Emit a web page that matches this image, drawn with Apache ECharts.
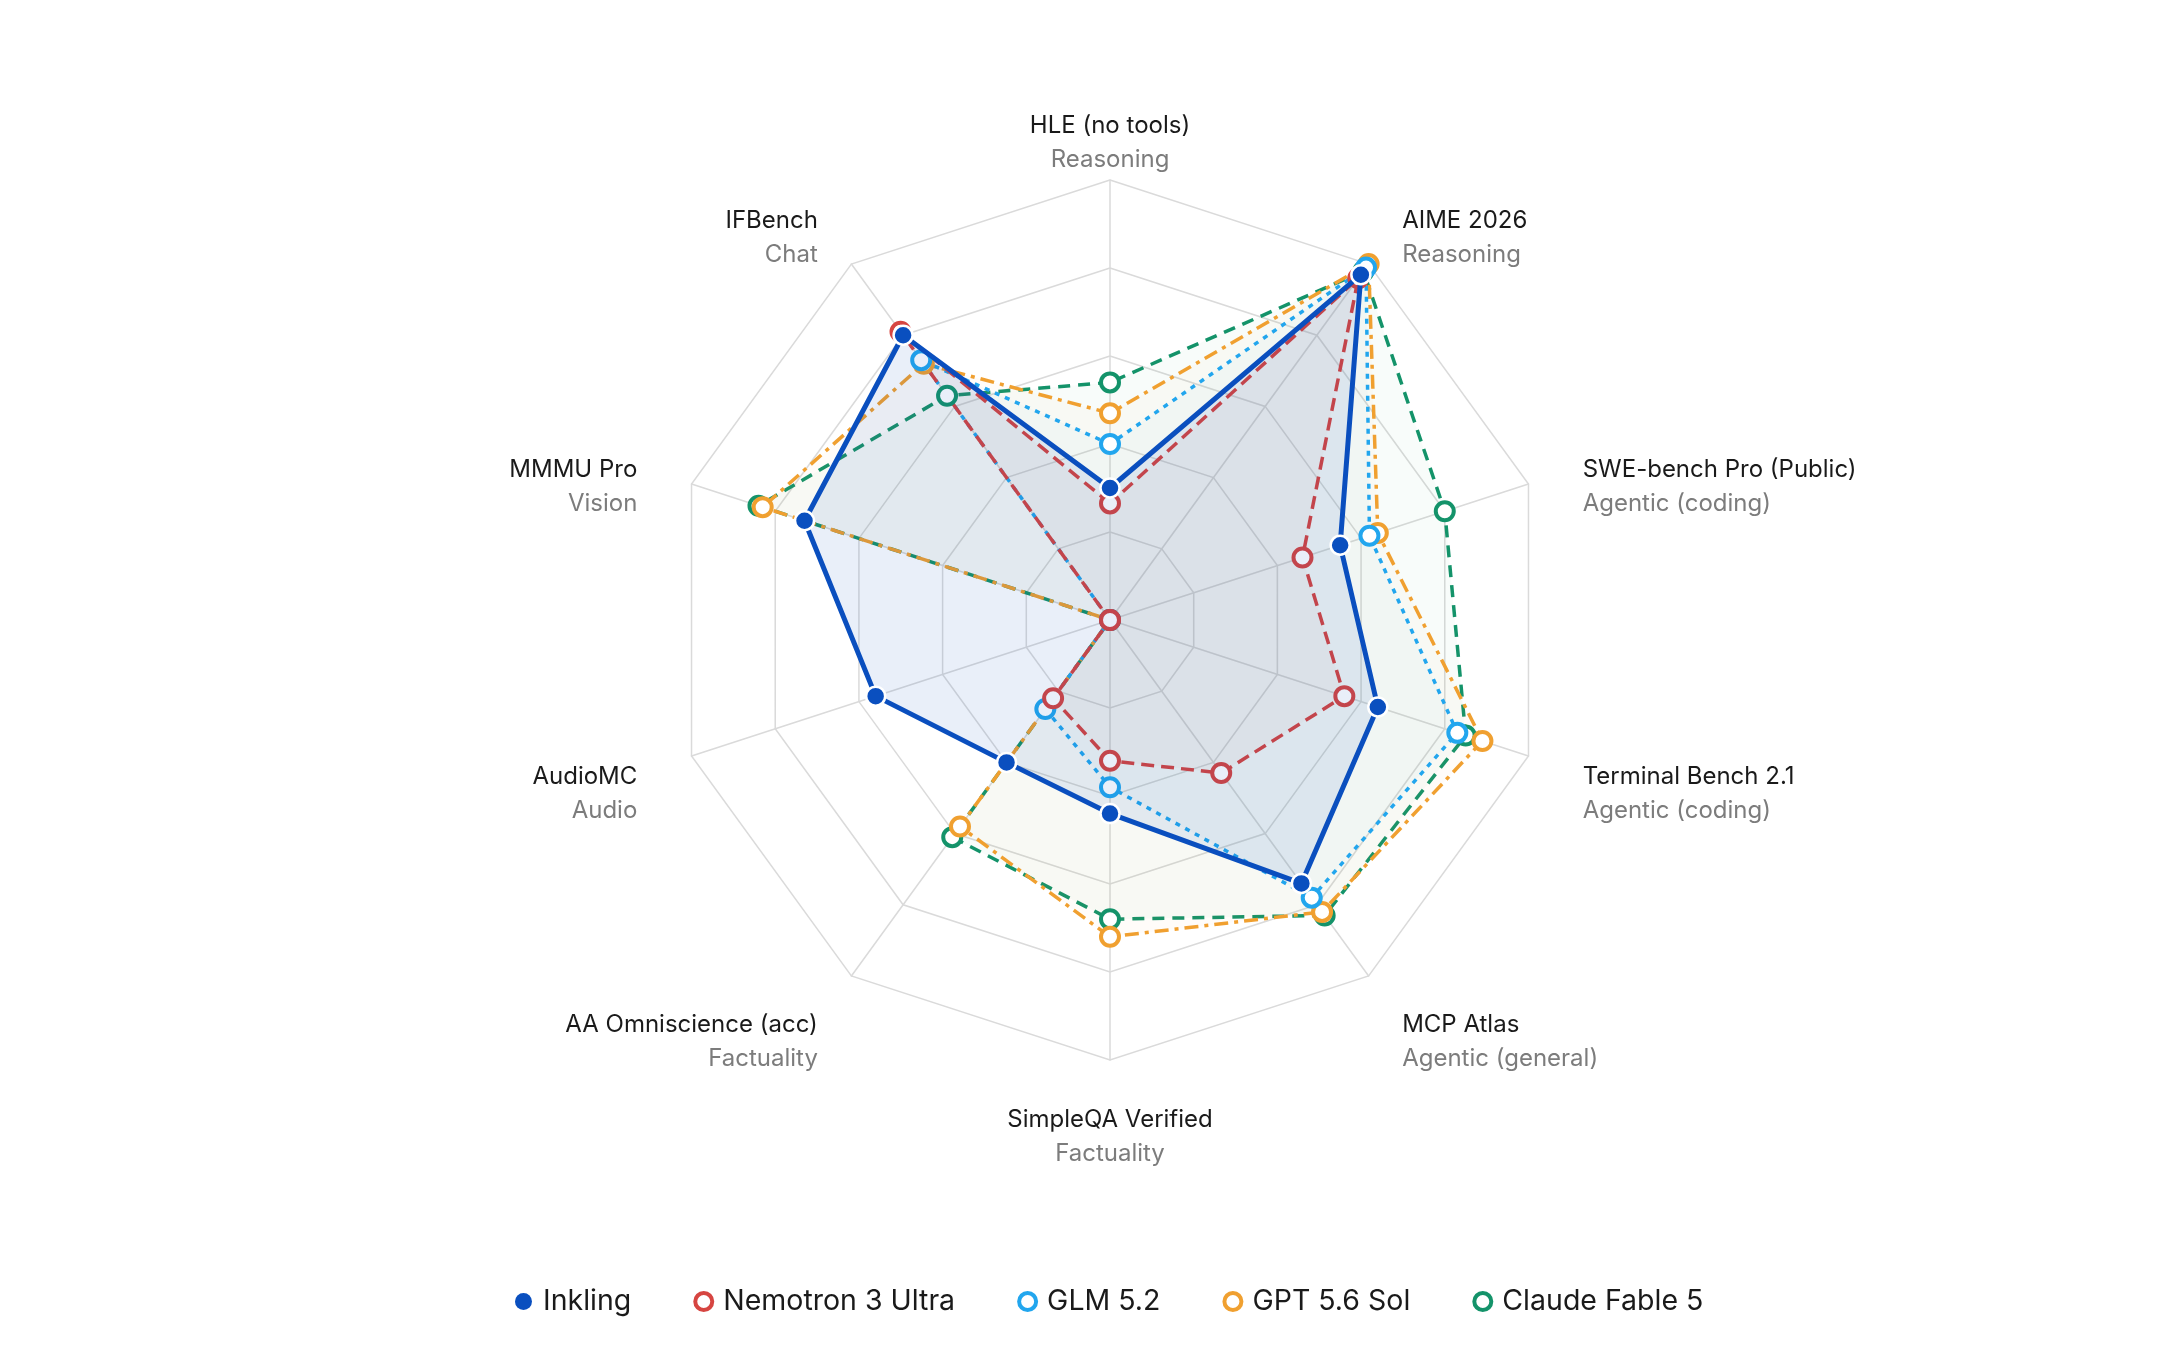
<!DOCTYPE html>
<html>
<head>
<meta charset="utf-8">
<script src="https://cdn.jsdelivr.net/npm/echarts@6/dist/echarts.min.js"></script>
<style>
html, body { margin: 0; padding: 0; background: #fff; }
#radar-chart { width: 2176px; height: 1372px; }
</style>
</head>
<body>
<div id="radar-chart"></div>
<script>
// axes, listed clockwise from the top
const benchNames = ['HLE (no tools)', 'AIME 2026', 'SWE-bench Pro (Public)', 'Terminal Bench 2.1', 'MCP Atlas',
    'SimpleQA Verified', 'AA Omniscience (acc)', 'AudioMC', 'MMMU Pro', 'IFBench']
const benchGroups = ['Reasoning', 'Reasoning', 'Agentic (coding)', 'Agentic (coding)', 'Agentic (general)',
    'Factuality', 'Factuality', 'Audio', 'Vision', 'Chat']

// scores, same order as benchNames (0 = not reported)
const inkling  = [30, 97, 55, 64, 74, 44, 40, 56, 73, 80]
const nemotron = [26.5, 96, 46, 56, 43, 32, 22, 0, 0, 81]
const glm      = [40, 99, 62, 83, 78, 38, 25, 0, 0, 73]
const gpt      = [47, 100, 64, 89, 82, 72, 58, 0, 83, 72]
const claude   = [54, 98, 80, 85, 83, 68, 61, 0, 84, 63]

const modelNames = ['Inkling', 'Nemotron 3 Ultra', 'GLM 5.2', 'GPT 5.6 Sol', 'Claude Fable 5']
const modelColors = ['#0a4fbf', '#d64541', '#22a6ee', '#f0a030', '#14936a']

// echarts lays radar indicators out counter-clockwise, so flip everything after the first one
function ccw(arr) {
    return [arr[0]].concat(arr.slice(1).reverse())
}

const indicators = ccw(benchNames.map((n, i) => ({ name: n + '\n{sub|' + benchGroups[i] + '}', max: 100, min: 0 })))

function makeSeries(idx, values, lineType, width, hollow, areaOpacity) {
    const c = modelColors[idx]
    return {
        name: modelNames[idx],
        type: 'radar',
        symbol: 'circle',
        symbolSize: hollow ? 18 : 19,
        z: 2 + (hollow ? 0 : 5),
        itemStyle: hollow
            ? { color: '#fff', borderColor: c, borderWidth: 4 }
            : { color: c, borderColor: '#fff', borderWidth: 2.5 },
        lineStyle: { color: c, width: width, type: lineType },
        areaStyle: { color: c, opacity: areaOpacity },
        data: [{ value: ccw(values), name: modelNames[idx] }]
    }
}

const chart = echarts.init(document.getElementById('radar-chart'))
const font = 'Inter, "Noto Sans", sans-serif'

const option = {
    backgroundColor: '#fff',
    animation: false,
    textStyle: { fontFamily: font },
    legend: {
        top: 1282,
        left: 510,
        itemGap: 62,
        itemWidth: 17,
        itemHeight: 17,
        textStyle: { fontSize: 28.5, color: '#1a1a1a', fontFamily: font, padding: [0, 0, 0, 6] },
        data: modelNames.map((n, i) => ({
            name: n,
            icon: 'circle',
            itemStyle: i === 0
                ? { color: modelColors[i], borderWidth: 0 }
                : { color: '#fff', borderColor: modelColors[i], borderWidth: 4 }
        }))
    },
    radar: {
        center: [1110, 620],
        radius: 440,
        startAngle: 90,
        splitNumber: 5,
        shape: 'polygon',
        indicator: indicators,
        axisNameGap: 57,
        axisName: {
            color: '#1a1a1a',
            fontSize: 24,
            lineHeight: 34,
            verticalAlign: 'middle',
            padding: [40, 0, 0, 0],
            fontFamily: font,
            rich: {
                sub: { color: '#7c7c7c', fontSize: 24, lineHeight: 34, fontFamily: font }
            }
        },
        axisLine: { lineStyle: { color: '#dadada', width: 1.5 } },
        splitLine: { lineStyle: { color: '#dadada', width: 1.5 } },
        splitArea: { show: false }
    },
    series: [
        makeSeries(4, claude, [12, 8], 3.5, true, 0.03),
        makeSeries(3, gpt, [14, 6, 4, 6], 3.5, true, 0.03),
        makeSeries(2, glm, [5, 6], 3.5, true, 0.03),
        makeSeries(1, nemotron, [13, 7], 3.5, true, 0.03),
        makeSeries(0, inkling, 'solid', 5, false, 0.09)
    ]
}

option && chart.setOption(option)
window.addEventListener('resize', () => chart.resize())
</script>
</body>
</html>
